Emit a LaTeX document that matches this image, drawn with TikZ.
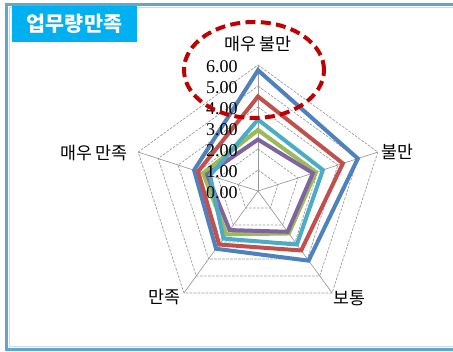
\documentclass[tikz,border=0pt]{standalone}
\usepackage{fontspec}
\setmainfont{Liberation Serif}
\newfontfamily\kofont{Noto Sans CJK KR}
\usetikzlibrary{calc}
\definecolor{serblue}{RGB}{79,129,189}
\definecolor{serred}{RGB}{192,80,77}
\definecolor{sergreen}{RGB}{155,187,89}
\definecolor{serpurple}{RGB}{128,100,162}
\definecolor{sercyan}{RGB}{75,172,198}
\definecolor{titlecyan}{RGB}{0,176,240}
\definecolor{framedark}{RGB}{100,165,205}
\definecolor{framelight}{RGB}{195,222,240}
\definecolor{ringred}{RGB}{192,0,0}
\tikzset{
  spoke/.style={line width=0.5pt, color=black!40},
  ring/.style={line width=0.5pt, color=black!40, dash pattern=on 2pt off 1pt},
  series/.style={line width=3pt},
  ticklbl/.style={anchor=east, inner sep=0pt, font=\fontsize{13.5}{15}\selectfont},
  axislbl/.style={inner sep=0pt, font=\kofont\fontsize{13}{15}\selectfont}
}
\def\ru{21}

\begin{document}
\begin{tikzpicture}[x=0.75pt, y=0.75pt]
		%%%%% START %%%%%
		\useasboundingbox (0,0) rectangle (453,351);
		
		\draw[line width=1.6pt, color=framedark] (470,1.5) -- (6.5,1.5) -- (6.5,346.5) -- (470,346.5);
		\draw[line width=1.4pt, color=framelight] (470,4.5) -- (9.5,4.5) -- (9.5,343.5) -- (470,343.5);
		
		\node[fill=titlecyan, text=white, minimum width=93.75pt, minimum height=27pt, inner sep=0pt,
		  font=\kofont\bfseries\fontsize{15.5}{17}\selectfont] (title) at (74.5,327) {업무량만족};
		
		\coordinate (c) at (258,160);
		
		\begin{scope}[shift={(c)}]
		\foreach \a in {90,18,-54,-126,162}
		  \draw[spoke] (0,0) -- (\a:6*\ru);
		\foreach \k in {1,...,6}
		  \draw[ring] (90:\k*\ru) -- (18:\k*\ru) -- (-54:\k*\ru) -- (-126:\k*\ru) -- (162:\k*\ru) -- cycle;
		
		\draw[series, serblue] (90:5.75*\ru) -- (18:5.0*\ru) -- (-54:4.1*\ru) -- (-126:3.4*\ru) -- (162:3.2*\ru) -- cycle;
		\draw[series, serred] (90:4.5*\ru) -- (18:4.25*\ru) -- (-54:3.5*\ru) -- (-126:3.15*\ru) -- (162:3.0*\ru) -- cycle;
		\draw[series, sergreen] (90:2.9*\ru) -- (18:2.9*\ru) -- (-54:2.5*\ru) -- (-126:2.55*\ru) -- (162:2.75*\ru) -- cycle;
		\draw[series, serpurple] (90:2.45*\ru) -- (18:2.75*\ru) -- (-54:2.4*\ru) -- (-126:2.3*\ru) -- (162:2.55*\ru) -- cycle;
		\draw[series, sercyan] (90:3.4*\ru) -- (18:3.25*\ru) -- (-54:3.15*\ru) -- (-126:2.8*\ru) -- (162:2.4*\ru) -- cycle;
		\end{scope}
		
		\foreach \k in {0,...,6}
		  \node[ticklbl] (t\k) at (238,{158+\k*\ru}) {\k.00};
		
		\node[axislbl] (top) at (258,307) {매우 불만};
		\node[axislbl, anchor=west] (right) at (381,199) {불만};
		\node[axislbl, anchor=west] (botright) at (333,53) {보통};
		\node[axislbl, anchor=east] (botleft) at (181,54) {만족};
		\node[axislbl, anchor=east] (left) at (128,198) {매우 만족};
		
		\draw[line width=3pt, color=ringred, dash pattern=on 7.5pt off 4pt] (254,281) ellipse [x radius=52.5pt, y radius=36pt];
		%%%%% END %%%%%
\end{tikzpicture}
\end{document}
